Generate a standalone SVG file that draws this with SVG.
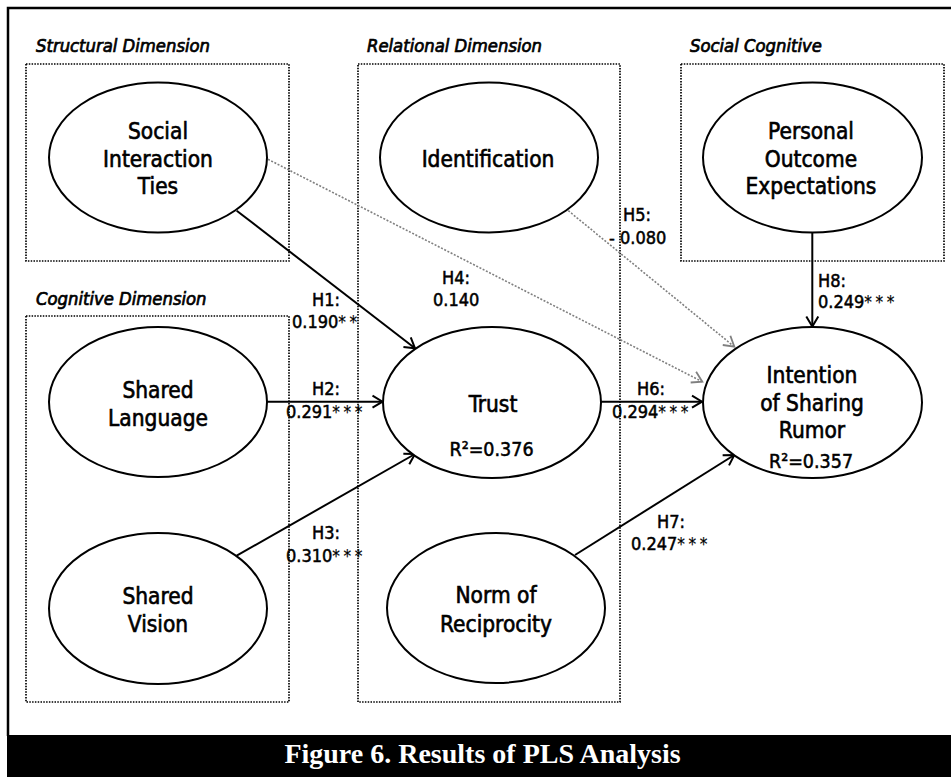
<svg xmlns="http://www.w3.org/2000/svg" width="951" height="777" viewBox="0 0 951 777">
<defs>
<style>
.node ellipse{fill:#fff;stroke:#000;stroke-width:2}
.nt{font-family:"DejaVu Sans Condensed","DejaVu Sans",sans-serif;font-size:22.5px;fill:#000;text-anchor:middle;stroke:#000;stroke-width:0.6}
.r2{font-size:19.5px;stroke-width:0.5}
.dim{font-family:"DejaVu Sans Condensed","DejaVu Sans",sans-serif;font-size:18.3px;font-style:italic;fill:#000;stroke:#000;stroke-width:0.7}
.box{fill:none;stroke:#000;stroke-width:1.7;stroke-dasharray:1.5 1.3}
.lbl{font-family:"DejaVu Sans Condensed","DejaVu Sans",sans-serif;font-size:18px;fill:#000;stroke:#000;stroke-width:0.5}
.ast{letter-spacing:3.5px;font-size:17px;stroke-width:0.2}
.c{fill:none;stroke:#000;stroke-width:2}
.d{fill:none;stroke:#808080;stroke-width:1.6;stroke-dasharray:2 1.6}
</style>
<marker id="ah" markerUnits="userSpaceOnUse" markerWidth="14" markerHeight="16" refX="11" refY="7" orient="auto" viewBox="0 0 14 14">
<path d="M1,1 L11,7 L1,13" fill="none" stroke="#000" stroke-width="2"/>
</marker>
<marker id="ahg" markerUnits="userSpaceOnUse" markerWidth="14" markerHeight="16" refX="11" refY="7" orient="auto" viewBox="0 0 14 14">
<path d="M1,1 L11,7 L1,13" fill="none" stroke="#808080" stroke-width="1.8"/>
</marker>
</defs>
<rect x="0" y="0" width="951" height="777" fill="#fff"/>
<path d="M8,736 L8,8 L951,8" fill="none" stroke="#000" stroke-width="2.5"/>
<rect x="7" y="735" width="944" height="42" fill="#000"/>
<text x="482.5" y="763" font-family="'Liberation Serif','Times New Roman',serif" font-size="28" font-weight="bold" fill="#fff" text-anchor="middle">Figure 6. Results of PLS Analysis</text>

<g id="dimensions">
<rect class="box" x="26" y="64" width="263" height="197"/>
<rect class="box" x="26" y="316" width="263" height="386"/>
<rect class="box" x="358" y="64" width="262" height="638"/>
<rect class="box" x="681" y="64" width="263" height="197"/>
<text class="dim" x="36" y="52">Structural Dimension</text>
<text class="dim" x="367" y="52">Relational Dimension</text>
<text class="dim" x="690" y="52">Social Cognitive</text>
<text class="dim" x="36" y="305">Cognitive Dimension</text>
</g>

<g id="connectors">
<line class="c" x1="236.7" y1="210.7" x2="415" y2="348.3" marker-end="url(#ah)"/>
<line class="c" x1="267" y1="401.7" x2="382.5" y2="401.7" marker-end="url(#ah)"/>
<line class="c" x1="236.7" y1="555.7" x2="415" y2="454" marker-end="url(#ah)"/>
<line class="d" x1="268" y1="159.3" x2="702.3" y2="381.7" marker-end="url(#ahg)"/>
<line class="d" x1="568.3" y1="210.7" x2="734.3" y2="346.7" marker-end="url(#ahg)"/>
<line class="c" x1="601" y1="401.7" x2="702" y2="401.7" marker-end="url(#ah)"/>
<line class="c" x1="575" y1="555" x2="734.3" y2="455" marker-end="url(#ah)"/>
<line class="c" x1="812.3" y1="232" x2="812.3" y2="326.5" marker-end="url(#ah)"/>
<text class="lbl" x="312" y="306">H1:</text>
<text class="lbl" x="292" y="328">0.190<tspan class="ast">**</tspan></text>
<text class="lbl" x="312" y="395">H2:</text>
<text class="lbl" x="286" y="418">0.291<tspan class="ast">***</tspan></text>
<text class="lbl" x="312" y="539">H3:</text>
<text class="lbl" x="286" y="561.5">0.310<tspan class="ast">***</tspan></text>
<text class="lbl" x="442" y="283.5">H4:</text>
<text class="lbl" x="433" y="306">0.140</text>
<text class="lbl" x="623" y="221">H5:</text>
<text class="lbl" x="609" y="244">- 0.080</text>
<text class="lbl" x="637" y="395">H6:</text>
<text class="lbl" x="612" y="417.5">0.294<tspan class="ast">***</tspan></text>
<text class="lbl" x="657" y="527.5">H7:</text>
<text class="lbl" x="631" y="549.5">0.247<tspan class="ast">***</tspan></text>
<text class="lbl" x="818" y="286.5">H8:</text>
<text class="lbl" x="818" y="308">0.249<tspan class="ast">***</tspan></text>
</g>

<g id="social-interaction-ties" class="node">
<ellipse cx="158" cy="157.5" rx="109" ry="75"/>
<text class="nt" x="158" y="139">Social</text>
<text class="nt" x="158" y="167">Interaction</text>
<text class="nt" x="158" y="194">Ties</text>
</g>
<g id="identification" class="node">
<ellipse cx="489" cy="157.5" rx="109" ry="75"/>
<text class="nt" x="488" y="167">Identification</text>
</g>
<g id="personal-outcome-expectations" class="node">
<ellipse cx="812.5" cy="157.5" rx="109.5" ry="75"/>
<text class="nt" x="811" y="139">Personal</text>
<text class="nt" x="811" y="167">Outcome</text>
<text class="nt" x="811" y="194">Expectations</text>
</g>
<g id="shared-language" class="node">
<ellipse cx="158" cy="402" rx="109" ry="75"/>
<text class="nt" x="158" y="398">Shared</text>
<text class="nt" x="158" y="426">Language</text>
</g>
<g id="shared-vision" class="node">
<ellipse cx="158" cy="608.5" rx="109" ry="75.5"/>
<text class="nt" x="158" y="604">Shared</text>
<text class="nt" x="158" y="632">Vision</text>
</g>
<g id="trust" class="node">
<ellipse cx="492" cy="402.5" rx="109" ry="75.5"/>
<text class="nt" x="493" y="412">Trust</text>
<text class="nt r2" x="491.5" y="456">R²=0.376</text>
</g>
<g id="norm-of-reciprocity" class="node">
<ellipse cx="496" cy="608" rx="109" ry="75"/>
<text class="nt" x="496" y="603">Norm of</text>
<text class="nt" x="496" y="632">Reciprocity</text>
</g>
<g id="intention-of-sharing-rumor" class="node">
<ellipse cx="812.5" cy="402.5" rx="109.5" ry="75.5"/>
<text class="nt" x="812" y="383">Intention</text>
<text class="nt" x="812" y="411">of Sharing</text>
<text class="nt" x="812" y="438">Rumor</text>
<text class="nt r2" x="811" y="468">R²=0.357</text>
</g>
</svg>
